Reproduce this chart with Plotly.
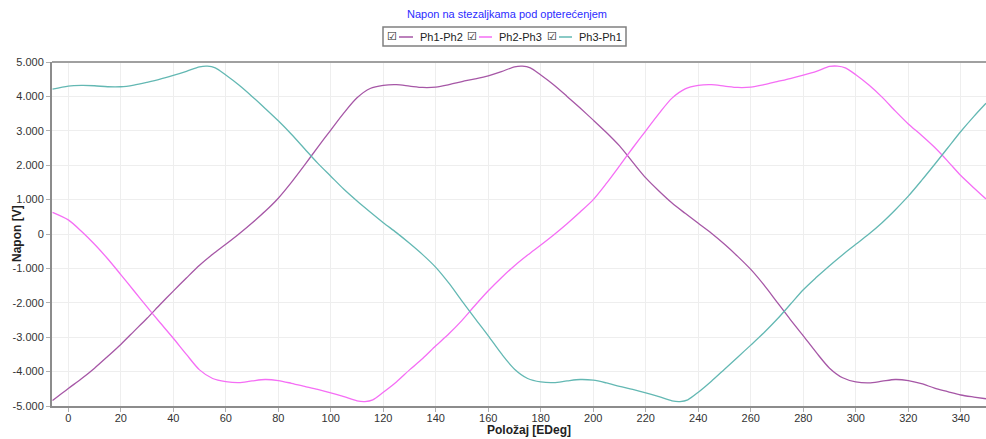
import plotly.graph_objects as go

# --- data (voltage in V vs electrical position in EDeg) ---
x_ph12 = [-6, 0, 5, 10, 15, 20, 25, 30, 35, 40, 45, 50, 55, 60, 65, 70, 75, 80, 85, 90, 95,
          100, 105, 110, 115, 120, 125, 130, 135, 140, 145, 150, 155, 160, 165, 170, 173, 176,
          180, 185, 190, 195, 200, 205, 210, 215, 220, 225, 230, 235, 240, 245, 250, 255, 260,
          265, 270, 275, 280, 285, 290, 295, 300, 305, 310, 315, 320, 325, 330, 335, 340, 345,
          349.6]
ph1_ph2 = [-4840, -4490, -4210, -3900, -3560, -3210, -2830, -2450, -2050, -1660, -1280, -910,
           -590, -300, 0, 320, 660, 1040, 1500, 2000, 2520, 3020, 3520, 3960, 4230, 4320, 4340,
           4300, 4260, 4270, 4340, 4430, 4510, 4600, 4720, 4860, 4880, 4830, 4620, 4330, 4000,
           3660, 3310, 2950, 2560, 2090, 1630, 1250, 900, 600, 310, 20, -300, -650, -1030, -1480,
           -1980, -2480, -2960, -3450, -3900, -4180, -4300, -4330, -4280, -4230, -4260, -4350,
           -4480, -4580, -4680, -4740, -4790]

x_ph23 = [-6, 0, 5, 10, 15, 20, 25, 30, 35, 40, 45, 50, 55, 60, 65, 70, 75, 80, 85, 90, 95,
          100, 105, 110, 113, 116, 120, 125, 130, 135, 140, 145, 150, 155, 160, 165, 170, 175,
          180, 185, 190, 195, 200, 205, 210, 215, 220, 225, 230, 235, 240, 245, 250, 255, 260,
          265, 270, 275, 280, 285, 290, 293, 296, 300, 305, 310, 315, 320, 325, 330, 335, 340,
          345, 349.6]
ph2_ph3 = [630, 410, 80, -300, -720, -1180, -1650, -2120, -2580, -3030, -3500, -3950, -4200,
           -4290, -4320, -4270, -4230, -4260, -4340, -4430, -4520, -4620, -4730, -4850, -4870,
           -4820, -4600, -4300, -3950, -3620, -3250, -2900, -2510, -2070, -1650, -1270, -920,
           -610, -320, -20, 300, 640, 1000, 1470, 1980, 2500, 3000, 3500, 3950, 4220, 4320, 4340,
           4300, 4260, 4270, 4340, 4430, 4520, 4620, 4730, 4870, 4880, 4830, 4630, 4330, 3980,
           3580, 3200, 2870, 2520, 2120, 1700, 1340, 1020]

x_ph31 = [-6, 0, 5, 10, 15, 20, 25, 30, 35, 40, 45, 50, 53, 56, 60, 65, 70, 75, 80, 85, 90, 95,
          100, 105, 110, 115, 120, 125, 130, 135, 140, 145, 150, 155, 160, 165, 170, 175, 180,
          185, 190, 195, 200, 205, 210, 215, 220, 225, 230, 233, 236, 240, 245, 250, 255, 260,
          265, 270, 275, 280, 285, 290, 295, 300, 305, 310, 315, 320, 325, 330, 335, 340, 345,
          349.6]
ph3_ph1 = [4210, 4300, 4320, 4310, 4280, 4280, 4330, 4410, 4500, 4610, 4730, 4860, 4880, 4830,
           4620, 4330, 4000, 3650, 3290, 2900, 2480, 2060, 1680, 1300, 960, 640, 330, 40, -270,
           -600, -970, -1430, -1950, -2460, -2960, -3480, -3930, -4200, -4300, -4320, -4270,
           -4230, -4250, -4330, -4430, -4520, -4620, -4730, -4850, -4870, -4820, -4600, -4280,
           -3930, -3580, -3230, -2870, -2480, -2050, -1620, -1260, -920, -600, -300, 0, 330, 700,
           1100, 1550, 2020, 2500, 2980, 3420, 3800]

series_names = ["Ph1-Ph2", "Ph2-Ph3", "Ph3-Ph1"]
series_colors = ["#a657a6", "#f56ef5", "#63b8b3"]

x_tick_vals = list(range(0, 341, 20))
y_tick_vals = [-5000, -4000, -3000, -2000, -1000, 0, 1000, 2000, 3000, 4000, 5000]
y_tick_text = ["-5.000", "-4.000", "-3.000", "-2.000", "-1.000", "0",
               "1.000", "2.000", "3.000", "4.000", "5.000"]

title_text = "Napon na stezaljkama pod opterećenjem"
x_title = "Položaj [EDeg]"
y_title = "Napon [V]"
checkbox = "☑"

FONT = "Arial, Liberation Sans, sans-serif"
W, H = 986, 439
ML, MR, MT, MB = 52, 0, 62, 33
PW, PH = W - ML - MR, H - MT - MB


def fx(p):
    """page pixel x -> paper coordinate"""
    return (p - ML) / PW


def fy(p):
    """page pixel y -> paper coordinate"""
    return (H - MB - p) / PH


fig = go.Figure()
for xs, ys, name, col in zip([x_ph12, x_ph23, x_ph31], [ph1_ph2, ph2_ph3, ph3_ph1],
                             series_names, series_colors):
    fig.add_trace(go.Scatter(x=xs, y=ys, mode="lines", name=name, showlegend=False,
                             line=dict(color=col, width=1.3, shape="spline", smoothing=0.8)))

fig.update_layout(
    width=W, height=H,
    margin=dict(l=ML, r=MR, t=MT, b=MB, autoexpand=False),
    paper_bgcolor="white", plot_bgcolor="white",
    font=dict(family=FONT, size=11, color="#333333"),
    title=dict(text=title_text, x=fx(507), xref="paper", xanchor="center",
               y=1 - 14 / H, yref="container", yanchor="middle",
               font=dict(family=FONT, size=11, color="#2b2bff")),
    showlegend=False,
)

fig.update_xaxes(range=[-6.2, 349.6], tickvals=x_tick_vals, showgrid=True, automargin=False,
                 gridcolor="#eeeeee", gridwidth=1, zeroline=False,
                 showline=True, linecolor="#8c8c8c", linewidth=2, mirror=False,
                 ticks="outside", ticklen=4, tickcolor="#b0b0b0", ticklabelstandoff=-3,
                 tickfont=dict(family=FONT, size=11, color="#333333"))
fig.update_yaxes(range=[-5000, 5000], tickvals=y_tick_vals, ticktext=y_tick_text,
                 showgrid=True, gridcolor="#eeeeee", gridwidth=1, zeroline=False, automargin=False,
                 showline=True, linecolor="#8c8c8c", linewidth=2,
                 ticks="outside", ticklen=4, tickcolor="#b0b0b0",
                 tickfont=dict(family=FONT, size=11, color="#333333"))

# top border line of the plot area
fig.add_shape(type="line", xref="paper", yref="paper", x0=0, x1=1, y0=1, y1=1,
              line=dict(color="#a0a0a0", width=2))

# --- legend box (checkbox, line sample, name) ---
fig.add_shape(type="rect", xref="paper", yref="paper",
              x0=fx(383), x1=fx(626), y0=fy(46), y1=fy(27),
              line=dict(color="#808080", width=1.5), fillcolor="white")
legend_cb_x = [392, 472, 552]
legend_line_x = [(399, 413), (479, 492), (559, 572)]
legend_text_x = [418, 497, 577]
ly = 37
for i, (name, col) in enumerate(zip(series_names, series_colors)):
    fig.add_annotation(text=checkbox, xref="paper", yref="paper",
                       x=fx(legend_cb_x[i]), y=fy(ly - 1),
                       xanchor="center", yanchor="middle", showarrow=False,
                       font=dict(family="DejaVu Sans", size=11, color="#222222"))
    fig.add_shape(type="line", xref="paper", yref="paper",
                  x0=fx(legend_line_x[i][0]), x1=fx(legend_line_x[i][1]),
                  y0=fy(ly), y1=fy(ly),
                  line=dict(color=col, width=1.5))
    fig.add_annotation(text=name, xref="paper", yref="paper",
                       x=fx(legend_text_x[i]), y=fy(ly),
                       xanchor="left", yanchor="middle", showarrow=False,
                       font=dict(family=FONT, size=11, color="#222222"))

# axis titles
fig.add_annotation(text="<b>" + x_title + "</b>", xref="paper", yref="paper",
                   x=fx(529), y=fy(430), xanchor="center", yanchor="middle",
                   showarrow=False, font=dict(family=FONT, size=12, color="#222222"))
fig.add_annotation(text="<b>" + y_title + "</b>", xref="paper", yref="paper",
                   x=fx(17), y=fy(234), xanchor="center", yanchor="middle",
                   textangle=-90, showarrow=False,
                   font=dict(family=FONT, size=12, color="#222222"))

fig.write_html("out.html", config={"displayModeBar": False},
               post_script="document.body.style.margin='0px';")
